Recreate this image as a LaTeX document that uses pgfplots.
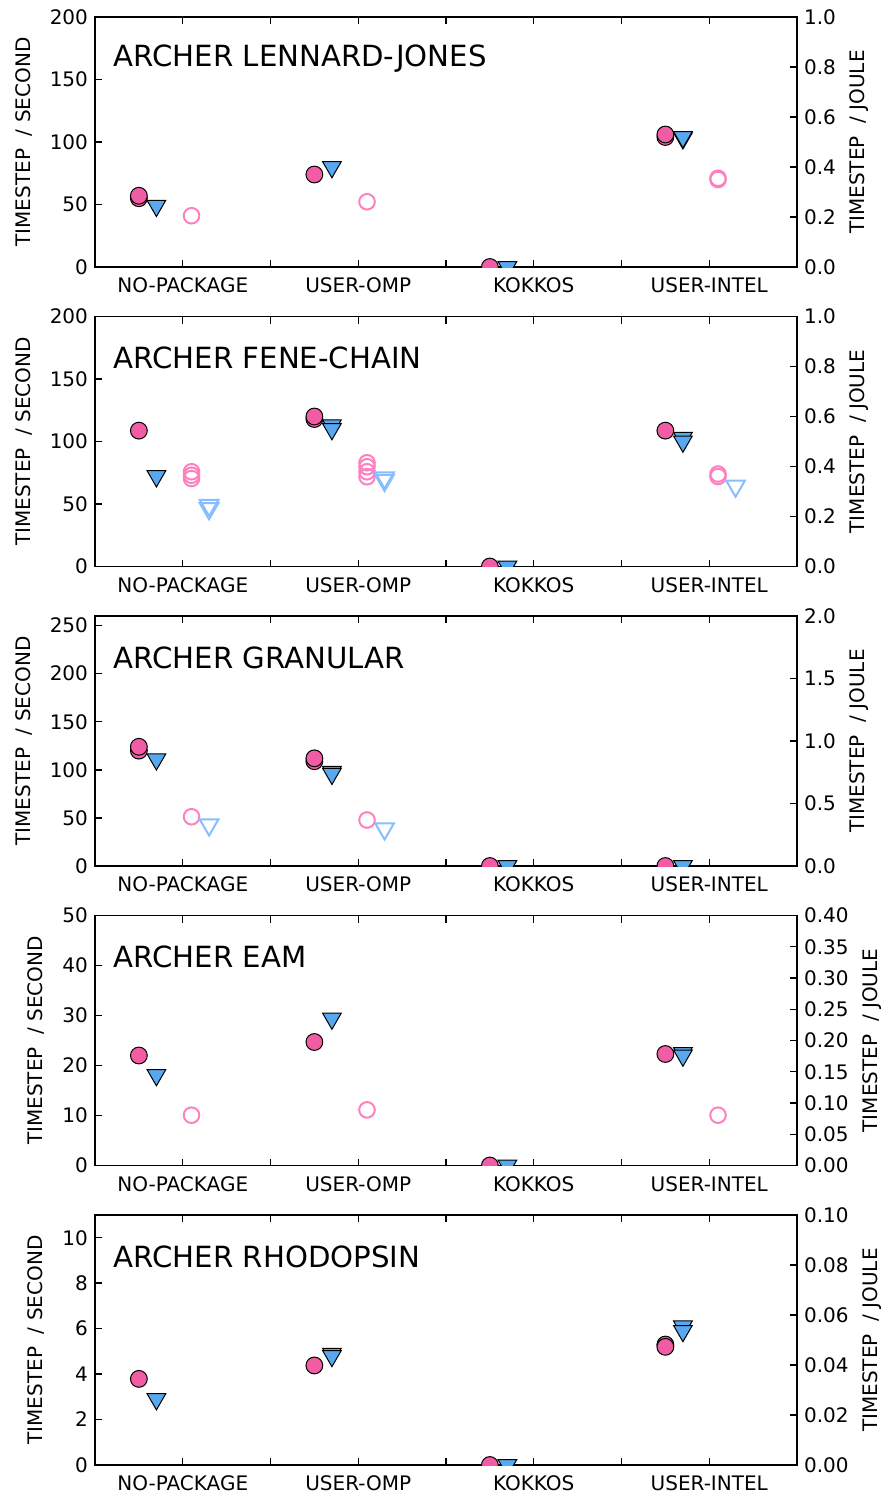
\documentclass[border=0pt]{standalone}
\usepackage{fontspec}
\setmainfont{DejaVu Sans}
\usepackage{pgfplots}
\pgfplotsset{compat=1.18}
\definecolor{pinkF}{RGB}{242,92,164}
\definecolor{blueF}{RGB}{88,168,240}
\definecolor{pinkO}{RGB}{255,128,192}
\definecolor{blueO}{RGB}{135,190,255}
\tikzset{ttl/.style={anchor=west, inner sep=0pt, font=\fontsize{14.6}{17}\selectfont}}
\pgfplotsset{
 panel/.style={scale only axis, width=351pt, height=125pt, xmin=-0.5, xmax=3.5,
   tick align=inside, major tick length=3.5pt,
   axis line style={line width=0.9pt},
   every tick/.style={line width=0.7pt, black},
   tick label style={font=\fontsize{10}{12}\selectfont},
   label style={font=\fontsize{10}{12}\selectfont},
   /pgf/number format/assume math mode=true,
   scaled y ticks=false, clip=true, clip marker paths=true},
 leftax/.style={panel, xtick={0,0.5,1,1.5,2,2.5,3},
   xticklabels={NO-PACKAGE,,USER-OMP,,KOKKOS,,USER-INTEL},
   xticklabel style={yshift=-2pt},
   xtick pos=both, ytick pos=left, ylabel={TIMESTEP~~/ SECOND}, ylabel shift=2pt},
 rightax/.style={panel, axis y line*=right, axis x line=none,
   ylabel={TIMESTEP~~/ JOULE}},
 fc/.style={only marks, mark=*, mark size=4.2pt, mark options={fill=pinkF, draw=black, line width=0.5pt}},
 ft/.style={only marks, mark=triangle*, mark size=5.4pt, mark options={rotate=180, fill=blueF, draw=black, line width=0.5pt}},
 oc/.style={only marks, mark=o, mark size=3.9pt, mark options={draw=pinkO, line width=1pt}},
 ot/.style={only marks, mark=triangle, mark size=5.4pt, mark options={rotate=180, draw=blueO, line width=1pt}},
}
\begin{document}
\begin{tikzpicture}
% ---------- Panel 1: Lennard-Jones ----------
\begin{axis}[leftax, at={(0pt,0pt)}, anchor=south west, ymin=0, ymax=200, ytick={0,50,100,150,200}]
\addplot[fc] coordinates {(-0.25,55) (-0.25,57) (0.75,74) (1.75,0) (2.75,104) (2.75,106)};
\addplot[ft] coordinates {(-0.15,49) (0.85,80) (1.85,0) (2.85,103) (2.85,104)};
\node[ttl] at (rel axis cs:0.026,0.833) {ARCHER LENNARD-JONES};
\end{axis}
\begin{axis}[rightax, at={(0pt,0pt)}, anchor=south west, ymin=0, ymax=1.0, ytick={0,0.2,0.4,0.6,0.8,1.0},
  yticklabel style={/pgf/number format/.cd, fixed, fixed zerofill, precision=1}]
\addplot[oc] coordinates {(0.05,0.205) (1.05,0.261) (3.05,0.355) (3.05,0.35)};
\end{axis}
% ---------- Panel 2: FENE-chain ----------
\begin{axis}[leftax, at={(0pt,-149.75pt)}, anchor=south west, ymin=0, ymax=200, ytick={0,50,100,150,200}]
\addplot[fc] coordinates {(-0.25,108.7) (0.75,118) (0.75,120) (1.75,0) (2.75,108.7)};
\addplot[ft] coordinates {(-0.15,72.3) (0.85,113) (0.85,110) (1.85,0) (2.85,103) (2.85,100)};
\node[ttl] at (rel axis cs:0.026,0.833) {ARCHER FENE-CHAIN};
\end{axis}
\begin{axis}[rightax, at={(0pt,-149.75pt)}, anchor=south west, ymin=0, ymax=1.0, ytick={0,0.2,0.4,0.6,0.8,1.0},
  yticklabel style={/pgf/number format/.cd, fixed, fixed zerofill, precision=1}]
\addplot[oc] coordinates {(0.05,0.352) (0.05,0.365) (0.05,0.379) (1.05,0.359) (1.05,0.379) (1.05,0.399) (1.05,0.415) (3.05,0.36) (3.05,0.37)};
\addplot[ot] coordinates {(0.15,0.232) (0.15,0.245) (1.15,0.345) (1.15,0.355) (3.15,0.322)};
\end{axis}
% ---------- Panel 3: Granular ----------
\begin{axis}[leftax, at={(0pt,-299.5pt)}, anchor=south west, ymin=0, ymax=260, ytick={0,50,100,150,200,250}]
\addplot[fc] coordinates {(-0.25,120) (-0.25,124) (0.75,109) (0.75,112) (1.75,0) (2.75,0)};
\addplot[ft] coordinates {(-0.15,111) (0.85,98) (0.85,96) (1.85,0) (2.85,0)};
\node[ttl] at (rel axis cs:0.026,0.833) {ARCHER GRANULAR};
\end{axis}
\begin{axis}[rightax, at={(0pt,-299.5pt)}, anchor=south west, ymin=0, ymax=2.0, ytick={0,0.5,1.0,1.5,2.0},
  yticklabel style={/pgf/number format/.cd, fixed, fixed zerofill, precision=1}]
\addplot[oc] coordinates {(0.05,0.394) (1.05,0.368)};
\addplot[ot] coordinates {(0.15,0.33) (1.15,0.298)};
\end{axis}
% ---------- Panel 4: EAM ----------
\begin{axis}[leftax, at={(0pt,-449.25pt)}, anchor=south west, ymin=0, ymax=50, ytick={0,10,20,30,40,50}]
\addplot[fc] coordinates {(-0.25,22.0) (0.75,24.7) (1.75,0) (2.75,22.3)};
\addplot[ft] coordinates {(-0.15,18.1) (0.85,29.4) (1.85,0) (2.85,22.5) (2.85,22)};
\node[ttl] at (rel axis cs:0.026,0.833) {ARCHER EAM};
\end{axis}
\begin{axis}[rightax, at={(0pt,-449.25pt)}, anchor=south west, ymin=0, ymax=0.4, ytick={0,0.05,0.10,0.15,0.20,0.25,0.30,0.35,0.40},
  yticklabel style={/pgf/number format/.cd, fixed, fixed zerofill, precision=2}]
\addplot[oc] coordinates {(0.05,0.0805) (1.05,0.089) (3.05,0.0805)};
\end{axis}
% ---------- Panel 5: Rhodopsin ----------
\begin{axis}[leftax, at={(0pt,-599pt)}, anchor=south west, ymin=0, ymax=11, ytick={0,2,4,6,8,10}]
\addplot[fc] coordinates {(-0.25,3.79) (0.75,4.38) (1.75,0) (2.75,5.3) (2.75,5.2)};
\addplot[ft] coordinates {(-0.15,2.9) (0.85,4.9) (0.85,4.8) (1.85,0) (2.85,6.1) (2.85,5.9)};
\node[ttl] at (rel axis cs:0.026,0.833) {ARCHER RHODOPSIN};
\end{axis}
\begin{axis}[rightax, at={(0pt,-599pt)}, anchor=south west, ymin=0, ymax=0.1, ytick={0,0.02,0.04,0.06,0.08,0.10},
  yticklabel style={/pgf/number format/.cd, fixed, fixed zerofill, precision=2}]
\end{axis}
\pgfresetboundingbox
\path[use as bounding box] (-47.5pt,133.5pt) rectangle (393.5pt,-614pt);
\end{tikzpicture}
\end{document}
